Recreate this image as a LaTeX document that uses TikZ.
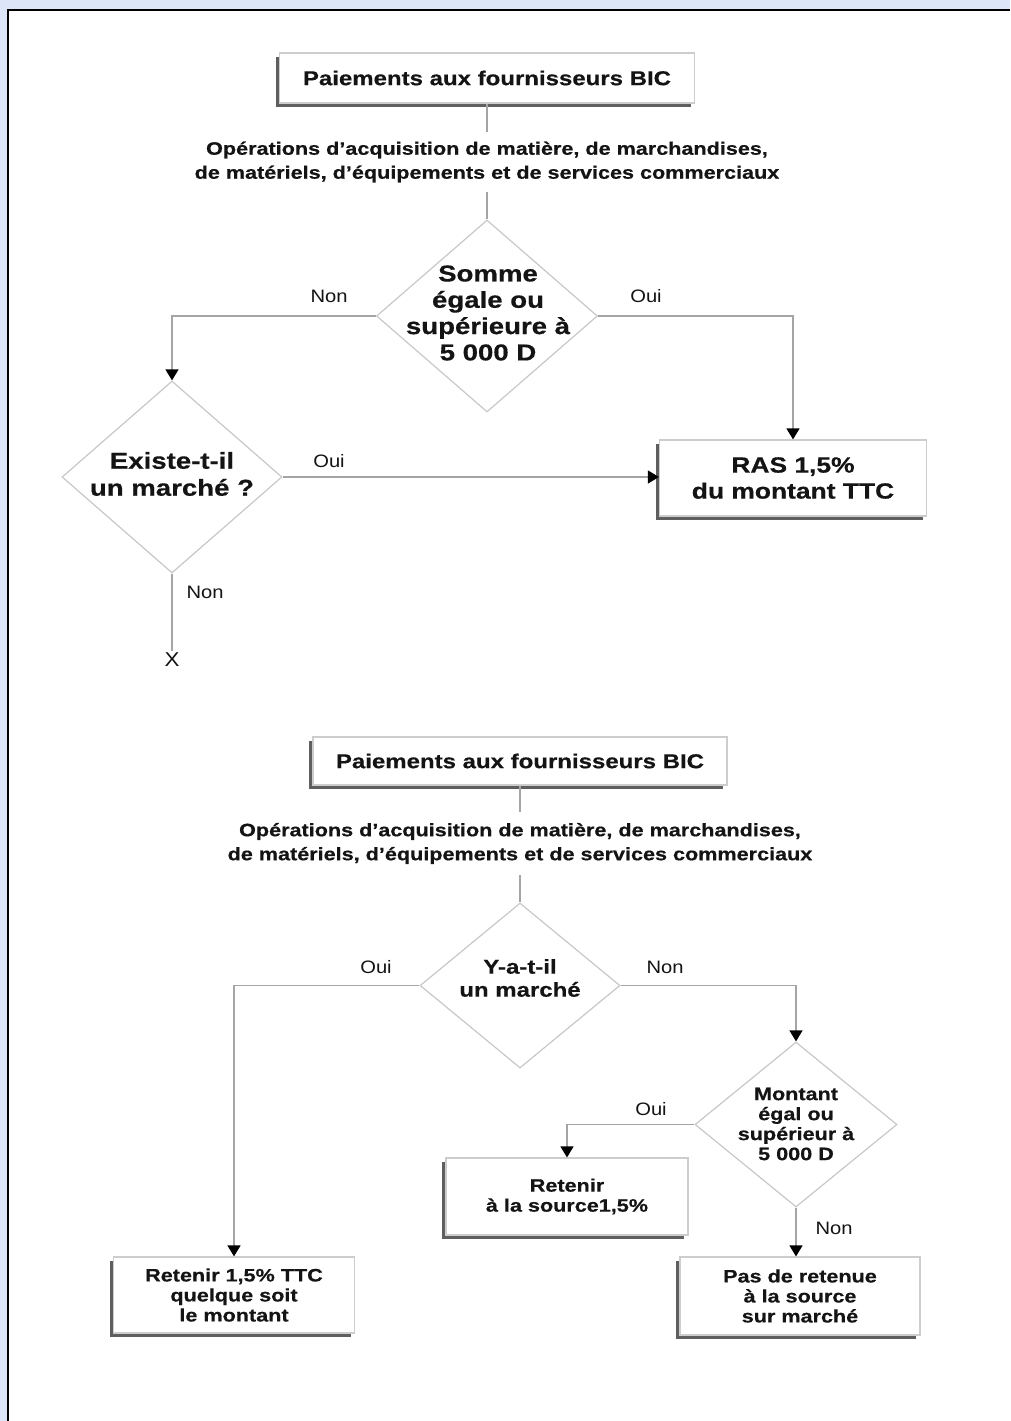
\documentclass[tikz,border=0pt]{standalone}
\usepackage{fontspec}
\setmainfont{Liberation Sans}
\newfontfamily\bfam[FakeStretch=1.2, BoldFeatures={FakeBold=0.5}]{Liberation Sans}
\newfontfamily\rfam[FakeStretch=1.12]{Liberation Sans}
\usetikzlibrary{shapes.geometric,arrows.meta,shadows}
\definecolor{bgblue}{RGB}{221,230,248}
\definecolor{boxgray}{RGB}{205,205,205}
\definecolor{shadowgray}{RGB}{95,95,95}
\definecolor{diagray}{RGB}{200,200,200}
\definecolor{linegray}{RGB}{165,165,165}
\definecolor{txt}{RGB}{20,20,20}
\tikzset{
  box/.style={draw=boxgray, line width=1.2pt, fill=white, align=center, inner sep=0pt, text=txt,
    drop shadow={shadow xshift=-4pt, shadow yshift=-4pt, fill=shadowgray, opacity=1}},
  diam/.style={diamond, draw=diagray, line width=1.2pt, fill=white, inner sep=0pt},
  dtext/.style={align=center, inner sep=0pt, text=txt},
  conn/.style={draw=linegray, line width=1.3pt},
  arr/.style={conn, -{Triangle[length=11pt,width=13pt,color=black]}},
  ops/.style={align=center, inner sep=0pt, text=txt, font=\bfam\bfseries\fontsize{18}{24}\selectfont},
  lbl/.style={inner sep=0pt, text=txt, font=\rfam\fontsize{18}{20}\selectfont},
}
\begin{document}
\begin{tikzpicture}[x=1pt,y=-1pt]
\path[use as bounding box] (0,0) rectangle (1010,1421);
\fill[bgblue] (0,0) rectangle (1010,1421);
\fill[white] (8,10) rectangle (1010,1421);
\draw[line width=2.5pt, black] (8,1421) -- (8,10) -- (1010,10);

% ---------- top flowchart ----------
\node[box, minimum width=415pt, minimum height=50pt, font=\bfam\bfseries\fontsize{20}{24}\selectfont] (b1) at (487,78) {Paiements aux fournisseurs BIC};
\node[ops, minimum height=60pt] (ops1) at (487,162) {Opérations d’acquisition de matière, de marchandises,\\de matériels, d’équipements et de services commerciaux};
\node[diam, minimum width=221pt, minimum height=192pt] (d1) at (487,316) {};
\node[dtext, font=\bfam\bfseries\fontsize{23}{26.3}\selectfont] (t1) at (488,313) {Somme\\égale ou\\supérieure à\\5 000 D};
\node[diam, minimum width=220pt, minimum height=192pt] (d2) at (172,477) {};
\node[dtext, font=\bfam\bfseries\fontsize{23}{27}\selectfont] (t2) at (172,474) {Existe-t-il\\un marché ?};
\node[box, minimum width=267pt, minimum height=76pt, font=\bfam\bfseries\fontsize{22}{26}\selectfont] (ras) at (793,478) {RAS 1,5\%\\du montant TTC};
\node[lbl, inner sep=2pt, font=\rfam\fontsize{20}{22}\selectfont] (x) at (172,660) {X};

\draw[conn] (b1) -- (ops1);
\draw[conn] (ops1) -- (d1);
\draw[arr] (d1.west) -| (d2.north);
\draw[arr] (d1.east) -| (ras.north);
\draw[arr] (d2.east) -- (d2.east -| ras.west);
\draw[conn] (d2.south) -- (x.north);
\node[lbl] (l1) at (329,296) {Non};
\node[lbl] (l2) at (646,296) {Oui};
\node[lbl] (l3) at (329,461) {Oui};
\node[lbl] (l4) at (205,592) {Non};

% ---------- bottom flowchart ----------
\node[box, minimum width=414pt, minimum height=48pt, font=\bfam\bfseries\fontsize{20}{24}\selectfont] (b3) at (520,761) {Paiements aux fournisseurs BIC};
\node[ops, minimum height=63pt] (ops2) at (520,843.5) {Opérations d’acquisition de matière, de marchandises,\\de matériels, d’équipements et de services commerciaux};
\node[diam, minimum width=200pt, minimum height=165pt] (d3) at (520,985.5) {};
\node[dtext, font=\bfam\bfseries\fontsize{20}{23}\selectfont] (t3) at (520,978) {Y-a-t-il\\un marché};
\node[diam, minimum width=202pt, minimum height=165pt] (d4) at (796,1124.5) {};
\node[dtext, font=\bfam\bfseries\fontsize{18}{20}\selectfont] (t4) at (796,1124) {Montant\\égal ou\\supérieur à\\5 000 D};
\node[box, minimum width=241pt, minimum height=76pt, font=\bfam\bfseries\fontsize{18}{20}\selectfont] (rt) at (234,1295) {Retenir 1,5\% TTC\\quelque soit\\le montant};
\node[box, minimum width=242pt, minimum height=77pt, font=\bfam\bfseries\fontsize{18}{20}\selectfont] (rs) at (567,1196.5) {Retenir\\à la source1,5\%};
\node[box, minimum width=240pt, minimum height=78pt, font=\bfam\bfseries\fontsize{18}{20}\selectfont] (pr) at (800,1296) {Pas de retenue\\à la source\\sur marché};

\draw[conn] (b3) -- (ops2);
\draw[conn] (ops2) -- (d3);
\draw[arr] (d3.west) -| (rt.north);
\draw[arr] (d3.east) -| (d4.north);
\draw[arr] (d4.west) -| (rs.north);
\draw[arr] (d4.south) -- (d4.south |- pr.north);
\node[lbl] (l5) at (376,967) {Oui};
\node[lbl] (l6) at (665,967) {Non};
\node[lbl] (l7) at (651,1109) {Oui};
\node[lbl] (l8) at (834,1228) {Non};
\end{tikzpicture}
\end{document}
